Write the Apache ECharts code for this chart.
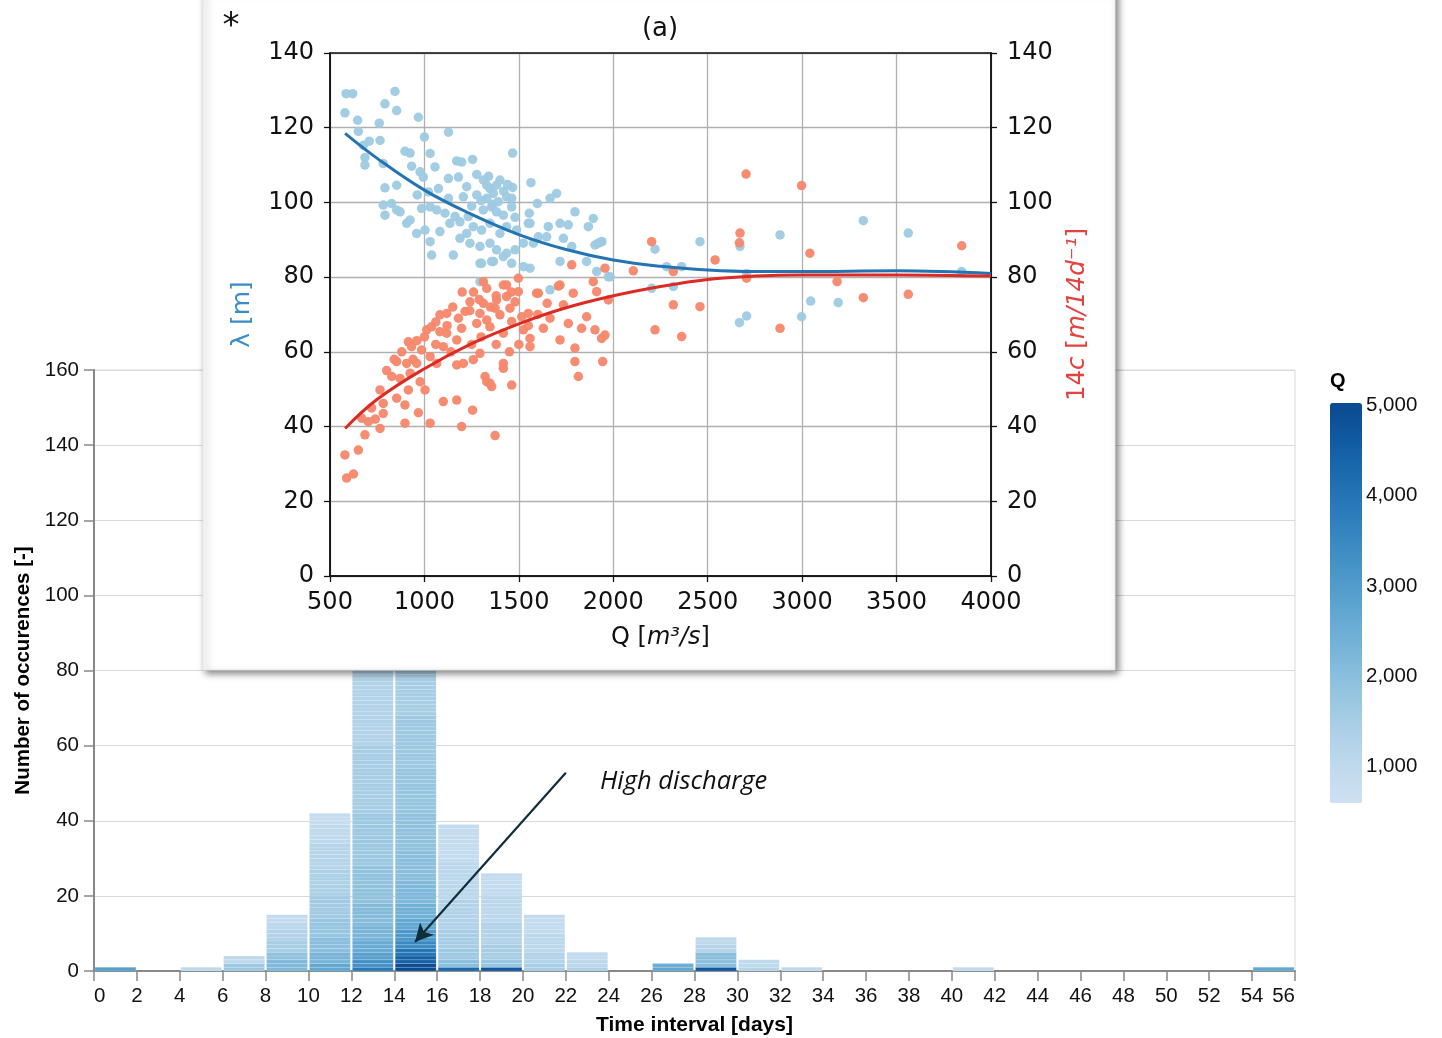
<!DOCTYPE html>
<html>
<head>
<meta charset="utf-8">
<script src="https://cdn.jsdelivr.net/npm/echarts@6/dist/echarts.min.js"></script>
<style>
html,body{margin:0;padding:0;background:#fff;}
#chart{width:1442px;height:1038px;}
</style>
</head>
<body>
<div id="chart"></div>
<script>
// ---------- Main histogram data ----------
const binWidth = 2;
const binStart = [0, 4, 6, 8, 10, 12, 14, 16, 18, 20, 22, 26, 28, 30, 32, 40, 54];
// each bin: groups of [Q value, number of occurrences], from bottom to top
const binQGroups = [
  [[2900, 1]],
  [[1000, 1]],
  [[1700, 2], [1000, 2]],
  [[2200, 3], [1900, 2], [1500, 3], [1300, 3], [1100, 2], [900, 2]],
  [[2700, 2], [2300, 3], [2000, 4], [1800, 5], [1600, 6], [1400, 7], [1200, 7], [1000, 5], [850, 3]],
  [[3900, 1], [3300, 2], [2900, 2], [2600, 3], [2300, 4], [2100, 6], [1900, 10], [1700, 14], [1500, 18], [1300, 20], [1100, 18], [900, 14]],
  [[5000, 2], [4500, 2], [4000, 2], [3500, 2], [3100, 3], [2700, 3], [2400, 4], [2200, 6], [2000, 8], [1900, 10], [1800, 12], [1700, 14], [1500, 16], [1300, 18], [1100, 12], [900, 10]],
  [[4300, 1], [2000, 2], [1700, 3], [1500, 5], [1300, 8], [1100, 10], [900, 10]],
  [[4700, 1], [1800, 2], [1500, 4], [1300, 6], [1100, 7], [900, 6]],
  [[1500, 2], [1300, 3], [1100, 5], [900, 5]],
  [[1400, 1], [1100, 2], [900, 2]],
  [[2700, 1], [2500, 1]],
  [[4700, 1], [2000, 4], [1200, 2], [1000, 2]],
  [[1200, 1], [1000, 2]],
  [[1000, 1]],
  [[900, 1]],
  [[2700, 1]]
];
const xTicks = { min: 0, max: 56, step: 2 };
const yTicks = { min: 0, max: 160, step: 20 };
const qScale = { min: 590, max: 5030, labels: [1000, 2000, 3000, 4000, 5000] };
const arrowFrom = [22.0, 52.8];
const arrowTo = [14.97, 7.7];

// ---------- Inset scatter data ----------
const lambdaPoints = [
[585,129.1],[620,129.1],[844,129.7],[579,124.0],[791,126.4],[853,124.6],[646,122.0],[761,121.2],[968,122.8],[650,119.0],
[1127,118.8],[1000,117.5],[708,116.4],[765,116.6],[677,115.3],[897,113.7],[924,113.2],[1030,113.1],[1467,113.2],[685,112.0],
[685,110.0],[1171,111.1],[1197,110.8],[1255,111.5],[782,110.4],[932,109.7],[977,108.2],[1056,109.5],[994,106.8],[1277,107.5],
[1127,106.4],[1180,106.8],[1224,104.2],[1312,106.0],[1330,104.6],[1347,103.7],[1365,102.4],[1382,104.6],[1467,104.0],[1564,105.3],
[791,103.9],[853,104.6],[962,102.0],[1021,102.8],[1074,103.7],[1127,101.1],[1206,101.5],[1277,102.0],[1330,101.1],[1391,100.2],
[1435,101.5],[1462,101.1],[782,99.3],[826,99.7],[853,98.0],[791,96.6],[871,97.5],[985,98.4],[1030,98.8],[1065,98.0],
[1109,97.1],[1162,96.2],[1232,96.2],[1312,98.0],[1356,98.8],[1382,97.5],[1418,96.6],[1462,98.8],[1598,99.7],[1700,102.4],
[1665,101.1],[1797,97.5],[1555,97.1],[1559,94.4],[906,94.4],[924,95.3],[959,91.7],[1003,92.6],[1030,89.5],[1082,92.2],
[1135,94.4],[1188,94.8],[1224,91.7],[1259,93.5],[1303,92.6],[1347,94.4],[1400,91.7],[1435,93.5],[1488,92.6],[1550,94.4],
[1603,90.8],[1656,93.5],[1718,94.4],[1762,94.0],[1868,93.5],[1894,95.7],[1188,90.4],[1241,89.1],[1294,88.2],[1347,89.1],
[1382,87.3],[1435,86.4],[1480,87.3],[1524,89.1],[1577,89.1],[1647,90.8],[1736,90.4],[1780,88.2],[1921,89.1],[1938,89.5],
[1038,85.9],[1153,85.9],[1303,83.7],[1365,84.2],[1418,85.5],[1462,83.7],[1524,82.8],[1559,82.4],[1718,84.2],[1859,84.2],
[1912,81.5],[1974,80.1],[1294,83.7],[1356,84.2],[1294,78.8],[1665,76.6],[1903,88.6],[1939,89.5],[2221,87.5],[2459,89.5],
[2671,88.2],[2883,91.3],[3324,95.1],[3562,91.8],[3845,81.5],[1983,80.1],[2283,82.8],[2362,82.8],[2203,77.0],[2318,77.5],
[2668,67.8],[2706,69.6],[2997,69.4],[3045,73.6],[3191,73.2],[2706,81.0],[1340,107.0],[1400,106.0],[1420,103.0],[1300,100.5],
[1360,99.5],[1440,104.8],[1250,99.0],[1480,96.0]
];
const celerityPoints = [
[588,26.2],[624,27.3],[579,32.4],[650,33.7],[685,37.8],[765,39.5],[703,41.3],[668,42.2],[782,43.5],[897,40.9],
[897,45.8],[968,43.7],[1030,40.9],[853,47.6],[782,46.2],[765,49.8],[915,49.8],[827,53.4],[853,57.4],[871,52.9],
[924,54.3],[977,52.0],[1003,49.8],[959,56.9],[932,61.4],[985,60.5],[1030,58.7],[1065,56.9],[906,56.9],[1100,46.7],
[1171,47.1],[1197,40.0],[1255,44.4],[1374,37.6],[1321,53.4],[1347,51.6],[1330,52.0],[1356,50.7],[1462,51.1],[1418,56.9],
[1418,55.6],[1171,56.5],[1206,56.9],[1259,57.9],[1294,59.6],[1038,66.7],[1082,69.9],[1118,65.0],[1171,63.2],[1100,61.4],
[1197,66.3],[1215,70.8],[1241,73.4],[1277,67.6],[1294,70.3],[1312,73.0],[1330,68.5],[1347,66.7],[1374,71.7],[1382,73.9],
[1400,69.9],[1418,65.0],[1435,74.8],[1453,71.7],[1462,68.1],[1480,73.4],[1497,76.1],[1515,69.4],[1550,70.3],[1524,65.9],
[1559,61.4],[1559,63.6],[1603,75.7],[1630,66.3],[1665,69.0],[1718,63.2],[1736,72.6],[1762,67.6],[1797,61.0],[1797,57.4],
[1815,53.4],[1832,66.3],[1859,69.4],[1903,65.9],[1938,63.6],[1956,64.5],[1944,57.4],[1780,83.3],[1956,82.4],[1912,76.1],
[1894,78.8],[1788,75.7],[1718,77.9],[1312,78.8],[1435,77.9],[1497,79.7],[1118,70.3],[1012,65.9],[1082,65.4],[915,62.7],
[1418,77.9],[1594,75.7],[1709,77.6],[1974,73.9],[2203,89.5],[2106,81.7],[2318,81.5],[2706,79.7],[3185,78.8],[3324,74.5],
[3562,75.4],[2318,72.6],[2459,72.1],[2221,65.9],[2362,64.1],[2883,66.3],[2703,107.6],[2997,104.5],[2671,91.8],[2668,89.2],
[3041,86.4],[2539,84.6],[3845,88.4],[1200,76],[1150,72],[1260,76],[1330,77],[1380,75],[1460,76],[1350,72],
[1290,74],[1240,71],[1180,69],[1120,67],[1060,68],[1000,64],[960,63],[880,60],[840,58],[800,55],
[1250,62],[1300,64],[1380,62],[1450,60],[1500,62],[1550,67],[1600,70],[1650,73],[1140,60],[1060,62],
[940,58],[720,45],[740,42]
];
const lambdaFit = [[580,118.5],[750,111.8],[1000,103.3],[1250,96.8],[1500,91.4],[1750,87.4],[2000,84.6],[2250,82.9],[2500,81.9],[2750,81.5],[3000,81.5],[3500,81.7],[4000,81.0]];
const celerityFit = [[580,39.5],[750,47.3],[1000,55.5],[1250,62.2],[1500,67.5],[1750,71.8],[2000,75.0],[2250,77.5],[2500,79.4],[2750,80.3],[3000,80.6],[3500,80.6],[4000,80.3]];
const insetX = { min: 500, max: 4000, step: 500 };
const insetY = { min: 0, max: 140, step: 20 };

// ---------- build unit segments ----------
const segments = [];
binStart.forEach((x0, i) => {
  let cum = 0;
  binQGroups[i].forEach(([q, n]) => {
    for (let k = 0; k < n; k++) {
      segments.push([x0, x0 + binWidth, cum, cum + 1, q]);
      cum += 1;
    }
  });
});

const mainFont = 'Liberation Sans, Arial, sans-serif';
const insetFont = 'DejaVu Sans, sans-serif';
const blues = ['#cfe1f2','#bed8ec','#a8cee5','#8fc1de','#74b2d7','#5ba3cf','#4592c6','#3181bd','#206fb2','#125ca4','#0a4a90'];

const chart = echarts.init(document.getElementById('chart'), null, { renderer: 'canvas' });

const insetAxisCommon = {
  gridIndex: 1, zlevel: 1, z: 3,
  axisLine: { show: true, lineStyle: { color: '#111', width: 1.5 } },
  axisTick: { show: true, length: 6, lineStyle: { color: '#111', width: 1.3 } }
};
const plain = v => String(v);

const option = {
  animation: false,
  backgroundColor: '#fff',
  grid: [
    { left: 94, right: 147, top: 370, bottom: 67, show: true, borderColor: '#d9d9d9', borderWidth: 1, outerBoundsMode: 'none' },
    { left: 330, top: 53, width: 661, height: 523, show: true, borderColor: '#111', borderWidth: 1.5, backgroundColor: 'transparent', zlevel: 1, z: 4, outerBoundsMode: 'none' },
    { left: 1330, top: 403, width: 32, height: 400, show: false, outerBoundsMode: 'none' }
  ],
  xAxis: [
    {
      type: 'value', gridIndex: 0, min: xTicks.min, max: xTicks.max, interval: xTicks.step,
      name: 'Time interval [days]', nameLocation: 'middle', nameGap: 44,
      nameTextStyle: { fontFamily: mainFont, fontSize: 21, fontWeight: 'bold', color: '#000' },
      axisLine: { show: true, lineStyle: { color: '#888', width: 2 } },
      axisTick: { show: true, length: 10, lineStyle: { color: '#888', width: 1.5 } },
      axisLabel: { fontFamily: mainFont, fontSize: 20.5, color: '#111', margin: 15, alignMinLabel: 'left', alignMaxLabel: 'right', formatter: plain },
      splitLine: { show: false }
    },
    Object.assign({}, insetAxisCommon, {
      type: 'value', min: insetX.min, max: insetX.max, interval: insetX.step, position: 'bottom',
      name: '{n|Q [}{i|m³/s}{n|]}', nameLocation: 'middle', nameGap: 50,
      nameTextStyle: { rich: { n: { fontFamily: insetFont, fontSize: 24, color: '#111' }, i: { fontFamily: insetFont, fontSize: 24, fontStyle: 'italic', color: '#111' } } },
      axisLabel: { fontFamily: insetFont, fontSize: 24, color: '#111', margin: 15, formatter: plain },
      splitLine: { show: true, lineStyle: { color: '#b0b0b0', width: 1.3 } }
    }),
    { type: 'value', gridIndex: 2, show: false, min: 0, max: 1 }
  ],
  yAxis: [
    {
      type: 'value', gridIndex: 0, min: yTicks.min, max: yTicks.max, interval: yTicks.step,
      name: 'Number of occurences [-]', nameLocation: 'middle', nameGap: 53, nameRotate: 90,
      nameTextStyle: { fontFamily: mainFont, fontSize: 20.5, fontWeight: 'bold', color: '#000' },
      axisLine: { show: true, lineStyle: { color: '#888', width: 2 } },
      axisTick: { show: true, length: 10, lineStyle: { color: '#888', width: 1.5 } },
      axisLabel: { fontFamily: mainFont, fontSize: 20.5, color: '#111', margin: 15, formatter: plain },
      splitLine: { show: true, lineStyle: { color: '#d9d9d9', width: 1.2 } }
    },
    Object.assign({}, insetAxisCommon, {
      type: 'value', min: insetY.min, max: insetY.max, interval: insetY.step, position: 'left',
      name: 'λ [m]', nameLocation: 'middle', nameGap: 75, nameRotate: 90,
      nameTextStyle: { fontFamily: insetFont, fontSize: 25, color: '#3d8bc7' },
      axisLabel: { fontFamily: insetFont, fontSize: 24, color: '#111', margin: 16, formatter: plain },
      splitLine: { show: true, lineStyle: { color: '#b0b0b0', width: 1.3 } }
    }),
    Object.assign({}, insetAxisCommon, {
      type: 'value', min: insetY.min, max: insetY.max, interval: insetY.step, position: 'right',
      name: '{n|14}{i|c}{n| [}{i|m/14d⁻¹}{n|]}', nameLocation: 'middle', nameGap: 74, nameRotate: 90,
      nameTextStyle: { rich: { n: { fontFamily: insetFont, fontSize: 24.5, color: '#e2433e' }, i: { fontFamily: insetFont, fontSize: 24.5, fontStyle: 'italic', color: '#e2433e' } } },
      axisLabel: { fontFamily: insetFont, fontSize: 24, color: '#111', margin: 16, formatter: plain },
      splitLine: { show: false }
    }),
    {
      type: 'value', gridIndex: 2, position: 'right', min: qScale.min, max: qScale.max,
      axisLine: { show: false }, axisTick: { show: false }, splitLine: { show: false },
      axisLabel: {
        show: true, customValues: qScale.labels, margin: 4,
        fontFamily: mainFont, fontSize: 20.5, color: '#111',
        formatter: v => Number(v).toLocaleString('en-US')
      }
    }
  ],
  visualMap: {
    type: 'continuous', seriesIndex: 0, dimension: 4,
    min: qScale.min, max: qScale.max,
    left: 1330, top: 403, itemWidth: 32, itemHeight: 400, padding: 0,
    calculable: false, hoverLink: false, text: null, showLabel: false,
    inRange: { color: blues }
  },
  graphic: [
    { type: 'rect', zlevel: 1, z: 1, shape: { x: 203, y: -10, width: 912, height: 680 },
      style: { fill: '#fff', stroke: '#e6e6e6', lineWidth: 1, shadowBlur: 7, shadowOffsetX: 3, shadowOffsetY: 3, shadowColor: 'rgba(0,0,0,0.5)' } },
    { type: 'text', zlevel: 1, z: 6, x: 231, y: 27,
      style: { text: '*', font: '34px DejaVu Sans', fill: '#111', textAlign: 'center', textVerticalAlign: 'middle' } },
    { type: 'text', zlevel: 1, z: 6, x: 660, y: 29,
      style: { text: '(a)', font: '26px DejaVu Sans', fill: '#111', textAlign: 'center', textVerticalAlign: 'middle' } },
    { type: 'text', z: 6, x: 1330, y: 381,
      style: { text: 'Q', font: 'bold 20px Liberation Sans', fill: '#000', textAlign: 'left', textVerticalAlign: 'middle' } },
    { type: 'text', z: 6, x: 600, y: 782,
      style: { text: 'High discharge', font: 'italic 25.5px Open Sans', fill: '#111', textAlign: 'left', textVerticalAlign: 'middle' } }
  ],
  series: [
    {
      type: 'custom', xAxisIndex: 0, yAxisIndex: 0, data: segments,
      encode: { x: [0, 1], y: [2, 3] },
      renderItem: function (params, api) {
        const p0 = api.coord([api.value(0), api.value(3)]);
        const p1 = api.coord([api.value(1), api.value(2)]);
        return {
          type: 'rect',
          shape: { x: p0[0] + 1, y: p0[1], width: p1[0] - p0[0] - 2, height: p1[1] - p0[1] },
          style: { fill: api.visual('color'), stroke: 'rgba(255,255,255,0.3)', lineWidth: 0.5 }
        };
      }
    },
    {
      type: 'scatter', xAxisIndex: 0, yAxisIndex: 0, data: [], z: 5,
      markLine: {
        silent: true, symbol: ['none', 'arrow'], symbolSize: [14, 18],
        label: { show: false },
        lineStyle: { color: '#0f2d3a', width: 2.2, type: 'solid' },
        data: [[{ coord: arrowFrom }, { coord: arrowTo }]]
      }
    },
    {
      type: 'scatter', xAxisIndex: 1, yAxisIndex: 1, zlevel: 1, z: 5, data: lambdaPoints,
      symbolSize: 9.5, itemStyle: { color: '#9ecae1', opacity: 0.95 }
    },
    {
      type: 'scatter', xAxisIndex: 1, yAxisIndex: 2, zlevel: 1, z: 6, data: celerityPoints,
      symbolSize: 9.5, itemStyle: { color: '#f5876a', opacity: 0.95 }
    },
    {
      type: 'line', xAxisIndex: 1, yAxisIndex: 1, zlevel: 1, z: 7, data: lambdaFit,
      smooth: 0.4, showSymbol: false, lineStyle: { color: '#2474b4', width: 3 }
    },
    {
      type: 'line', xAxisIndex: 1, yAxisIndex: 2, zlevel: 1, z: 8, data: celerityFit,
      smooth: 0.4, showSymbol: false, lineStyle: { color: '#dc2a25', width: 3 }
    }
  ]
};
chart.setOption(option);
</script>
</body>
</html>
